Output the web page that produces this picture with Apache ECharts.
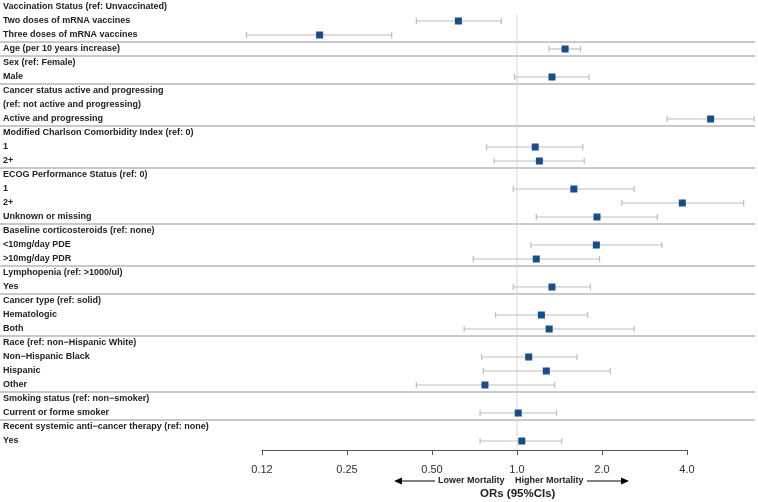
<!DOCTYPE html>
<html>
<head>
<meta charset="utf-8">
<script src="https://cdn.jsdelivr.net/npm/echarts@6/dist/echarts.min.js"></script>
<style>
html,body{margin:0;padding:0;background:#fff;}
#chart{width:758px;height:502px;}
</style>
</head>
<body>
<div id="chart"></div>
<script>
// ---- Data ----
const rowLabels = [
  'Vaccination Status (ref: Unvaccinated)',
  'Two doses of mRNA vaccines',
  'Three doses of mRNA vaccines',
  'Age (per 10 years increase)',
  'Sex (ref: Female)',
  'Male',
  'Cancer status active and progressing',
  '(ref: not active and progressing)',
  'Active and progressing',
  'Modified Charlson Comorbidity Index (ref: 0)',
  '1',
  '2+',
  'ECOG Performance Status (ref: 0)',
  '1',
  '2+',
  'Unknown or missing',
  'Baseline corticosteroids (ref: none)',
  '<10mg/day PDE',
  '>10mg/day PDR',
  'Lymphopenia (ref: >1000/ul)',
  'Yes',
  'Cancer type (ref: solid)',
  'Hematologic',
  'Both',
  'Race (ref: non\u2212Hispanic White)',
  'Non\u2212Hispanic Black',
  'Hispanic',
  'Other',
  'Smoking status (ref: non\u2212smoker)',
  'Current or forme smoker',
  'Recent systemic anti\u2212cancer therapy (ref: none)',
  'Yes'
];
// rows (index into rowLabels) that carry an estimate
const estimateRows = [1, 2, 3, 5, 8, 10, 11, 13, 14, 15, 17, 18, 20, 22, 23, 25, 26, 27, 29, 31];
const oddsRatios   = [0.62, 0.20, 1.48, 1.33, 4.85, 1.16, 1.20, 1.59, 3.85, 1.92, 1.91, 1.17, 1.33, 1.22, 1.30, 1.10, 1.27, 0.77, 1.01, 1.04];
const ciLower      = [0.44, 0.11, 1.30, 0.98, 3.40, 0.78, 0.83, 0.97, 2.35, 1.17, 1.12, 0.70, 0.97, 0.84, 0.65, 0.75, 0.76, 0.44, 0.74, 0.74];
const ciUpper      = [0.88, 0.36, 1.68, 1.80, 6.91, 1.71, 1.73, 2.60, 6.35, 3.14, 3.26, 1.96, 1.82, 1.78, 2.60, 1.63, 2.14, 1.36, 1.38, 1.44];
// group separators are drawn below these rows
const separatorAfter = [2, 3, 5, 8, 11, 15, 18, 20, 23, 27, 29];
// x axis ticks
const tickValues = [0.125, 0.25, 0.5, 1, 2, 4];
const tickLabels = ['0.12', '0.25', '0.50', '1.0', '2.0', '4.0'];
const referenceValue = 1;

// ---- Chart ----
const FONT = "'Liberation Sans', Arial, Helvetica, sans-serif";
const chart = echarts.init(document.getElementById('chart'), null, {renderer: 'canvas'});

const ciData = estimateRows.map((r, i) => [ciLower[i], ciUpper[i], r]);
const pointData = estimateRows.map((r, i) => [oddsRatios[i], r]);

function tickLabel(v) {
  for (let i = 0; i < tickValues.length; i++) {
    if (Math.abs(v - tickValues[i]) / tickValues[i] < 1e-6) return tickLabels[i];
  }
  return '';
}

const option = {
  animation: false,
  backgroundColor: '#ffffff',
  grid: {left: 262, right: 71, top: -4, bottom: 54, containLabel: false},
  xAxis: {
    type: 'log',
    logBase: 2,
    min: 0.125,
    max: 4,
    offset: 2,
    axisLine: {show: true, lineStyle: {color: '#555', width: 1}},
    axisTick: {show: true, length: 5, lineStyle: {color: '#555'}},
    axisLabel: {
      margin: 14, fontSize: 11, color: '#333', fontFamily: FONT,
      formatter: tickLabel
    },
    splitLine: {show: false},
    minorTick: {show: false}
  },
  yAxis: {
    type: 'category',
    data: rowLabels,
    inverse: true,
    axisLine: {show: false},
    axisTick: {show: false},
    splitLine: {show: false},
    axisLabel: {
      interval: 0, align: 'left', margin: 259,
      fontSize: 9, fontWeight: 'bold', color: '#222', fontFamily: FONT
    }
  },
  series: [
    {
      type: 'custom',
      name: 'separators',
      clip: false,
      silent: true,
      data: separatorAfter.map(r => [referenceValue, r]),
      encode: {x: 0, y: 1},
      renderItem: function (params, api) {
        const band = api.size([0, 1])[1];
        const y = api.coord([referenceValue, api.value(1)])[1] + band / 2;
        return {
          type: 'line',
          shape: {x1: 0, y1: y, x2: 755, y2: y},
          style: {stroke: '#949494', lineWidth: 1.2}
        };
      }
    },
    {
      type: 'custom',
      name: 'reference',
      clip: false,
      silent: true,
      data: [[referenceValue, 1]],
      encode: {x: 0, y: 1},
      renderItem: function (params, api) {
        const band = api.size([0, 1])[1];
        const p = api.coord([api.value(0), api.value(1)]);
        const top = p[1] - band / 2;
        const bottom = params.coordSys.y + params.coordSys.height + 2;
        return {
          type: 'line',
          shape: {x1: p[0], y1: top, x2: p[0], y2: bottom},
          style: {stroke: '#d9d9d9', lineWidth: 1}
        };
      }
    },
    {
      type: 'custom',
      name: 'ci',
      clip: false,
      silent: true,
      data: ciData,
      encode: {x: [0, 1], y: 2},
      renderItem: function (params, api) {
        const a = api.coord([api.value(0), api.value(2)]);
        const b = api.coord([api.value(1), api.value(2)]);
        const h = 3;
        const st = {stroke: '#bdbdbd', lineWidth: 1.2};
        return {
          type: 'group',
          children: [
            {type: 'line', shape: {x1: a[0], y1: a[1], x2: b[0], y2: b[1]}, style: st},
            {type: 'line', shape: {x1: a[0], y1: a[1] - h, x2: a[0], y2: a[1] + h}, style: st},
            {type: 'line', shape: {x1: b[0], y1: b[1] - h, x2: b[0], y2: b[1] + h}, style: st}
          ]
        };
      }
    },
    {
      type: 'scatter',
      name: 'OR',
      clip: false,
      silent: true,
      symbol: 'rect',
      symbolSize: 7,
      itemStyle: {color: '#1a4c88', opacity: 1},
      data: pointData,
      z: 5
    }
  ],
  graphic: [
    // left arrow
    {type: 'line', shape: {x1: 435, y1: 481, x2: 400, y2: 481}, style: {stroke: '#000', lineWidth: 1}},
    {type: 'polygon', shape: {points: [[394, 481], [402, 477.5], [402, 484.5]]}, style: {fill: '#000'}},
    {type: 'text', left: 438, top: 476, style: {text: 'Lower Mortality', font: "bold 9px " + FONT, fill: '#222'}},
    {type: 'text', left: 515, top: 476, style: {text: 'Higher Mortality', font: "bold 9px " + FONT, fill: '#222'}},
    // right arrow
    {type: 'line', shape: {x1: 587, y1: 481, x2: 622, y2: 481}, style: {stroke: '#000', lineWidth: 1}},
    {type: 'polygon', shape: {points: [[629, 481], [621, 477.5], [621, 484.5]]}, style: {fill: '#000'}},
    {type: 'text', left: 480, top: 488, style: {text: 'ORs (95%CIs)', font: "bold 11.5px " + FONT, fill: '#222'}}
  ]
};
chart.setOption(option);
</script>
</body>
</html>
